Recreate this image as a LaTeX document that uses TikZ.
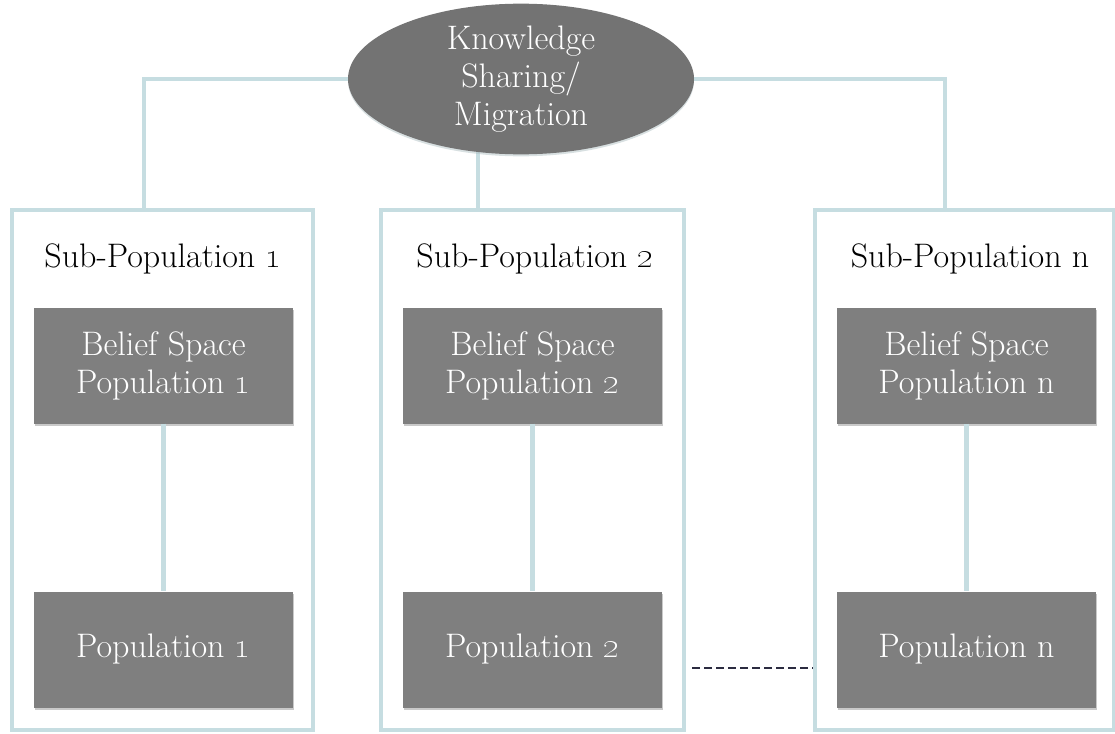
\documentclass[tikz,border=0pt]{standalone}
\usetikzlibrary{shapes.geometric,shadows,backgrounds,calc}
\definecolor{linkblue}{HTML}{C6DDE1}
\definecolor{boxgray}{HTML}{7F7F7F}
\definecolor{ovalgray}{HTML}{737373}
\definecolor{dashnavy}{HTML}{2B2B40}
\tikzset{
  x=1pt, y=-1pt,
  txt/.style={font=\fontsize{34}{38}\selectfont, align=center},
  group/.style={draw=linkblue, line width=4.5pt, fill=white, rectangle, inner sep=0pt},
  title/.style={txt, text=black},
  cell/.style={txt, text=white, fill=boxgray, rectangle, inner sep=0pt,
    minimum width=259pt, minimum height=116pt,
    drop shadow={shadow xshift=0.5pt, shadow yshift=-2.5pt, opacity=0.35, fill=black!60}},
  oval/.style={txt, text=white, fill=ovalgray, ellipse, inner sep=0pt,
    minimum width=346pt, minimum height=150pt,
    drop shadow={shadow xshift=0pt, shadow yshift=-2pt, opacity=0.5, fill=linkblue!70!gray}},
  link/.style={draw=linkblue, line width=4.5pt},
  dots/.style={draw=dashnavy, line width=2.2pt, dash pattern=on 8pt off 4pt}
}
\begin{document}
\begin{tikzpicture}
\useasboundingbox (0,0) rectangle (1115,733);

% sub-population frames
\node[group, minimum width=301pt, minimum height=520pt] (sp1) at (162.5,470) {};
\node[group, minimum width=303pt, minimum height=520pt] (sp2) at (532.5,470) {};
\node[group, minimum width=299pt, minimum height=520pt] (sp3) at (964.5,470) {};

% frame titles
\node[title] (t1) at (163,259) {Sub-Population \oldstylenums{1}};
\node[title] (t2) at (535,259) {Sub-Population \oldstylenums{2}};
\node[title] (t3) at (970,259) {Sub-Population n};

% belief spaces and populations
\node[cell] (b1) at (163.5,365.5) {Belief Space\\Population \oldstylenums{1}};
\node[cell] (b2) at (532.5,365.5) {Belief Space\\Population \oldstylenums{2}};
\node[cell] (b3) at (966.5,365.5) {Belief Space\\Population n};
\node[cell] (p1) at (163.5,649.5) {Population \oldstylenums{1}};
\node[cell] (p2) at (532.5,649.5) {Population \oldstylenums{2}};
\node[cell] (p3) at (966.5,649.5) {Population n};

% knowledge sharing hub
\node[oval] (ks) at (521,79) {Knowledge\\Sharing/\\Migration};

% junctions on the frame tops
\coordinate (j1) at (144,210);
\coordinate (j2) at (478,210);
\coordinate (j3) at (945,210);
\coordinate (d1) at (692,668);

\begin{scope}[on background layer]
  \draw[link] (ks.center) -| (j1);
  \draw[link] (ks.center) -| (j3);
  \draw[link] (j2 |- ks.center) -- (j2);
\end{scope}

\draw[link] (b1.south) -- (p1.north);
\draw[link] (b2.south) -- (p2.north);
\draw[link] (b3.south) -- (p3.north);

\draw[dots] (d1) -- (d1 -| sp3.west);
\end{tikzpicture}
\end{document}
